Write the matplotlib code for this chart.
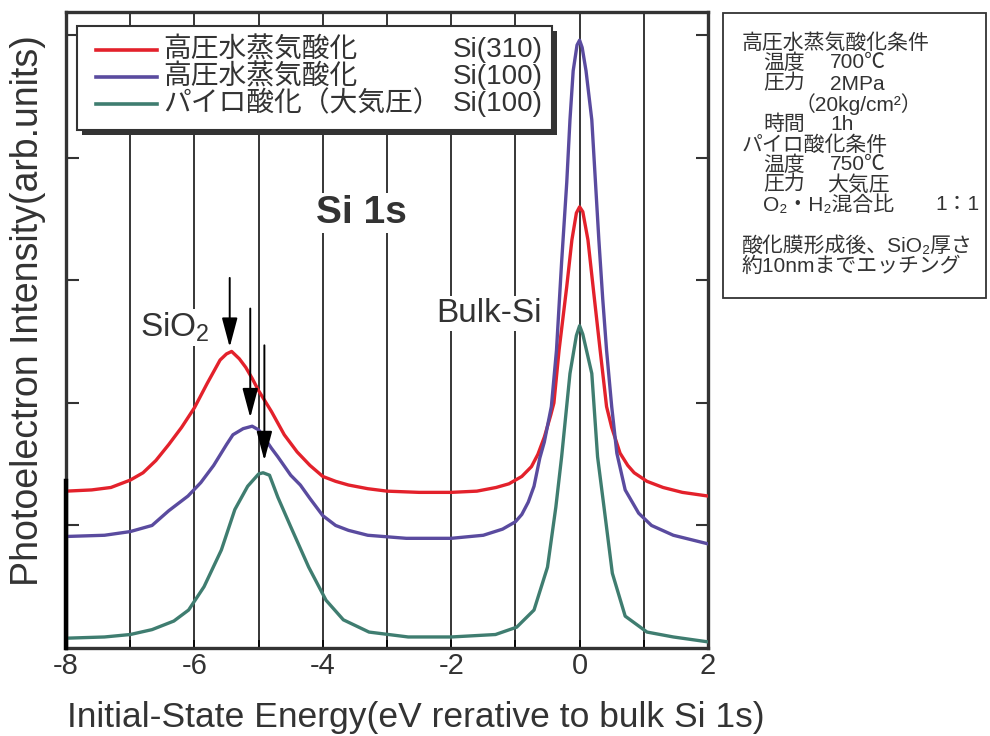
import matplotlib
matplotlib.use("Agg")
import matplotlib.pyplot as plt
from matplotlib.patches import Rectangle
from matplotlib.lines import Line2D
from matplotlib.transforms import Affine2D

plt.rcParams['font.family'] = ['Liberation Sans', 'Noto Sans CJK JP', 'DejaVu Sans']
plt.rcParams['axes.unicode_minus'] = False
plt.rcParams['mathtext.fontset'] = 'custom'
plt.rcParams['mathtext.rm'] = 'Liberation Sans'
plt.rcParams['mathtext.it'] = 'Liberation Sans'

# --- spectra (energy in eV, intensity in arb. units) ---
red_x = [-8.0, -7.6, -7.3, -7.15, -7.0, -6.8, -6.6, -6.4, -6.2, -6.0, -5.8, -5.6, -5.5,
         -5.42, -5.3, -5.2, -5.1, -5.0, -4.8, -4.6, -4.4, -4.2, -4.0, -3.8, -3.6, -3.3,
         -3.0, -2.5, -2.0, -1.6, -1.3, -1.1, -0.9, -0.75, -0.65, -0.55, -0.45, -0.4,
         -0.32, -0.2, -0.12, -0.05, 0.0, 0.05, 0.13, 0.22, 0.32, 0.42, 0.5, 0.63,
         0.75, 0.85, 1.05, 1.3, 1.6, 2.0]
red_y = [1.28, 1.29, 1.31, 1.34, 1.37, 1.43, 1.53, 1.66, 1.80, 1.96, 2.16, 2.35, 2.40,
         2.42, 2.36, 2.29, 2.20, 2.10, 1.93, 1.74, 1.60, 1.49, 1.40, 1.36, 1.33, 1.30,
         1.28, 1.27, 1.27, 1.28, 1.31, 1.34, 1.40, 1.48, 1.58, 1.72, 1.90, 2.00,
         2.43, 2.95, 3.33, 3.55, 3.60, 3.56, 3.33, 2.90, 2.43, 1.97, 1.80, 1.59,
         1.49, 1.43, 1.36, 1.31, 1.27, 1.24]

blue_x = [-8.0, -7.4, -7.0, -6.66, -6.4, -6.1, -5.9, -5.7, -5.5, -5.4, -5.24, -5.1,
          -5.0, -4.93, -4.8, -4.7, -4.5, -4.35, -4.2, -4.0, -3.8, -3.6, -3.3, -2.7,
          -2.0, -1.5, -1.2, -1.0, -0.9, -0.8, -0.71, -0.62, -0.55, -0.44, -0.36,
          -0.28, -0.2, -0.15, -0.1, -0.04, 0.0, 0.04, 0.1, 0.19, 0.3, 0.36, 0.42,
          0.5, 0.58, 0.71, 0.92, 1.12, 1.46, 2.0]
blue_y = [0.91, 0.92, 0.95, 1.00, 1.12, 1.24, 1.35, 1.49, 1.66, 1.74, 1.79, 1.81,
          1.78, 1.73, 1.63, 1.56, 1.41, 1.33, 1.22, 1.08, 1.00, 0.96, 0.92, 0.895,
          0.895, 0.92, 0.97, 1.03, 1.09, 1.19, 1.32, 1.55, 1.68, 1.97, 2.43,
          3.15, 3.80, 4.31, 4.71, 4.92, 4.96, 4.90, 4.71, 4.31, 3.33, 2.85, 2.43,
          1.97, 1.59, 1.29, 1.10, 1.00, 0.92, 0.85]

green_x = [-8.0, -7.4, -7.0, -6.66, -6.32, -6.09, -5.85, -5.58, -5.37, -5.17, -5.0,
           -4.93, -4.83, -4.7, -4.5, -4.22, -3.95, -3.68, -3.28, -2.67, -2.0, -1.31,
           -0.98, -0.71, -0.5, -0.37, -0.28, -0.15, -0.05, 0.0, 0.05, 0.19, 0.28,
           0.38, 0.51, 0.71, 1.05, 1.46, 2.0]
green_y = [0.08, 0.09, 0.11, 0.15, 0.22, 0.31, 0.50, 0.80, 1.13, 1.32, 1.42,
           1.43, 1.41, 1.23, 0.99, 0.66, 0.39, 0.23, 0.13, 0.09, 0.09, 0.11,
           0.17, 0.31, 0.66, 1.15, 1.56, 2.24, 2.55, 2.63, 2.56, 2.24, 1.56,
           1.15, 0.61, 0.26, 0.13, 0.09, 0.05]

series_names = ['高圧水蒸気酸化', '高圧水蒸気酸化', 'パイロ酸化（大気圧）']
series_faces = ['Si(310)', 'Si(100)', 'Si(100)']
series_colors = ['#e3212b', '#5a4b9f', '#3f7d70']

# SiO2 peak arrows: x, start of shaft, tip
arrow_x = [-5.45, -5.13, -4.91]
arrow_top = [3.02, 2.77, 2.47]
arrow_tip = [2.455, 1.88, 1.53]

xticks = [-8, -6, -4, -2, 0, 2]
yticks = [1, 2, 3, 4, 5]

W, H = 990, 736
fig = plt.figure(figsize=(W / 100, H / 100), dpi=100)
ax = fig.add_axes([66 / W, 1 - 648 / H, (708 - 66) / W, (648 - 12) / H])
# pixel coordinates from the top-left corner of the figure
pix = Affine2D().scale(1 / W, -1 / H).translate(0, 1) + fig.transFigure

dark = '#333333'

for xs, ys, c in zip([red_x, blue_x, green_x], [red_y, blue_y, green_y], series_colors):
    ax.plot(xs, ys, color=c, lw=2.4, zorder=4, solid_joinstyle='round')

for xa, ya, yt in zip(arrow_x, arrow_top, arrow_tip):
    ax.annotate('', xy=(xa, yt), xytext=(xa, ya),
                arrowprops=dict(arrowstyle='-|>,head_length=0.9,head_width=0.24',
                                mutation_scale=20, lw=1.4, color='black',
                                shrinkA=0, shrinkB=0), zorder=5)

ax.set_xlim(-8, 2)
ax.set_ylim(0, 5.19)
ax.set_xticks(xticks)
ax.set_xticks(range(-7, 2, 2), minor=True)
ax.set_yticks(yticks)
ax.set_yticklabels([])
ax.tick_params(axis='y', which='both', direction='in', length=9, width=1.5,
               left=True, right=True, color=dark)
ax.tick_params(axis='x', which='both', direction='in', length=6, width=1.2,
               color='black', labelsize=21, labelcolor=dark, pad=3)
ax.xaxis.grid(True, which='both', color='black', lw=1.1, zorder=1)
ax.set_axisbelow(True)
for s in ax.spines.values():
    s.set_color(dark)
    s.set_linewidth(2.4)
# darker stretch at the bottom of the left spine
ax.axvline(-8, ymin=0, ymax=0.263, color='black', lw=3.2, zorder=6, clip_on=False)

wbox = dict(facecolor='white', edgecolor='none', pad=1.5)
ax.text(-3.40, 3.47, 'Si 1s', ha='center', va='baseline', fontsize=28,
        fontweight='bold', color=dark, bbox=wbox, zorder=3)
ax.text(-1.41, 2.66, 'Bulk-Si', ha='center', va='baseline', fontsize=24,
        color=dark, bbox=wbox, zorder=3)
ax.text(-6.30, 2.54, 'SiO$_2$', ha='center', va='baseline', fontsize=24,
        color=dark, bbox=wbox, zorder=3)

fig.text(416 / W, 1 - 718 / H, 'Initial-State Energy(eV rerative to bulk Si 1s)',
         ha='center', va='center', fontsize=25.5, color=dark)
fig.text(28 / W, 1 - 311 / H, 'Photoelectron Intensity(arb.units)', rotation=90,
         ha='center', va='center', fontsize=27, color=dark)

# legend box with solid shadow
fig.add_artist(Rectangle((82, 31), 475, 104, transform=pix, facecolor='#333333',
                         edgecolor='none', zorder=8))
fig.add_artist(Rectangle((77, 26), 475, 104, transform=pix, facecolor='white',
                         edgecolor=dark, lw=1.5, zorder=9))
for i, (nm, face, c) in enumerate(zip(series_names, series_faces, series_colors)):
    yy = 50 + 27 * i
    fig.add_artist(Line2D([96, 157], [yy, yy], transform=pix, color=c, lw=2.6, zorder=10))
    fig.text(163, yy, nm, transform=pix, ha='left', va='center', fontsize=20,
             color=dark, zorder=10)
    fig.text(543, yy, face, transform=pix, ha='right', va='center', fontsize=20,
             color=dark, zorder=10)

# conditions panel
fig.add_artist(Rectangle((723, 13), 263, 285, transform=pix, facecolor='white',
                         edgecolor=dark, lw=1.3, zorder=8))
panel = [
    (742, 43, '高圧水蒸気酸化条件'),
    (763, 63, '温度'), (830, 63, '700℃'),
    (763, 84, '圧力'), (830, 84, '2MPa'),
    (795, 104, '（20kg/cm²）'),
    (763, 124, '時間'), (830, 124, '1h'),
    (742, 145, 'パイロ酸化条件'),
    (763, 165, '温度'), (830, 165, '750℃'),
    (763, 185, '圧力'), (827, 185, '大気圧'),
    (763, 205, 'O₂・H₂混合比'), (935, 205, '1：1'),
    (742, 246, '酸化膜形成後、SiO₂厚さ'),
    (742, 266, '約10nmまでエッチング'),
]
for px_, py_, t in panel:
    fig.text(px_, py_, t, transform=pix, ha='left', va='center', fontsize=15,
             color=dark, zorder=10)

fig.savefig('out.png', dpi=100, facecolor='white')
